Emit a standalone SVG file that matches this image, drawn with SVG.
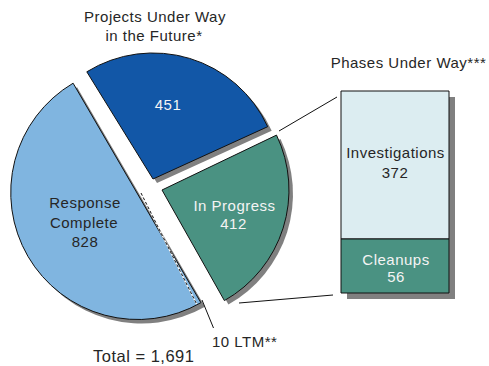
<svg xmlns="http://www.w3.org/2000/svg" width="489" height="366" viewBox="0 0 489 366">
<style>
.t{font-family:"Liberation Sans",Arial,sans-serif;font-size:15px;letter-spacing:0.5px;text-anchor:middle;fill:#262626}
.w{fill:#f4f4f4}
.sl{stroke:#111;stroke-width:1;stroke-linejoin:round}
.sh{fill:#808080}
.ln{stroke:#111;stroke-width:1;fill:none}
</style>
<rect width="489" height="366" fill="#fff"/>
<g id="shadows" transform="translate(4,4)">
<path class="sh" d="M137 193 L200.9 302.7 A127 127 0 0 1 73.1 83.2 Z"/>
<path class="sh" d="M153 179 L86.8 71.8 A126 126 0 0 1 267.7 126.7 Z"/>
<path class="sh" d="M162 190 L276.5 135.1 A127 127 0 0 1 224.4 300.6 Z"/>
</g>
<g id="response-complete">
<path class="sl" fill="#80b5e0" d="M137 193 L200.9 302.7 A127 127 0 0 1 73.1 83.2 Z"/>
<text class="t" x="85" y="208">Response</text>
<text class="t" x="84" y="228">Complete</text>
<text class="t" x="85" y="247">828</text>
</g>
<g id="ltm">
<line x1="141" y1="193" x2="196.6" y2="304" stroke="#fff" stroke-width="1.5"/>
<line x1="141" y1="193" x2="196.6" y2="304" stroke="#111" stroke-width="1" stroke-dasharray="3 2"/>
<text class="t" x="212" y="347" style="text-anchor:start">10 LTM**</text>
</g>
<g id="future">
<path class="sl" fill="#1257a7" d="M153 179 L86.8 71.8 A126 126 0 0 1 267.7 126.7 Z"/>
<text class="t" x="155" y="22">Projects Under Way</text>
<text class="t" x="154" y="41">in the Future*</text>
<text class="t w" x="168" y="110">451</text>
</g>
<g id="in-progress">
<path class="sl" fill="#4a9282" d="M162 190 L276.5 135.1 A127 127 0 0 1 224.4 300.6 Z"/>
<text class="t w" x="234.5" y="211">In Progress</text>
<text class="t w" x="233.5" y="229">412</text>
</g>
<g id="phases">
<text class="t" x="408.5" y="68">Phases Under Way***</text>
<rect class="sh" x="347" y="97" width="108" height="202"/>
<rect class="sl" fill="#dcedf1" x="341" y="91" width="108" height="148"/>
<rect class="sl" fill="#4a9282" x="341" y="239" width="108" height="54"/>
</g>
<g id="investigations">
<text class="t" x="395.5" y="158">Investigations</text>
<text class="t" x="395" y="178">372</text>
</g>
<g id="cleanups">
<text class="t w" x="396" y="265">Cleanups</text>
<text class="t w" x="396" y="282">56</text>
</g>
<g id="connectors">
<line class="ln" x1="279" y1="131" x2="337" y2="97"/>
<line class="ln" x1="239" y1="303" x2="333" y2="295"/>
<line class="ln" x1="202" y1="300" x2="213.5" y2="328"/>
</g>
<g id="total">
<text class="t" x="93" y="362" style="text-anchor:start;font-size:16.5px">Total = 1,691</text>
</g>
</svg>
